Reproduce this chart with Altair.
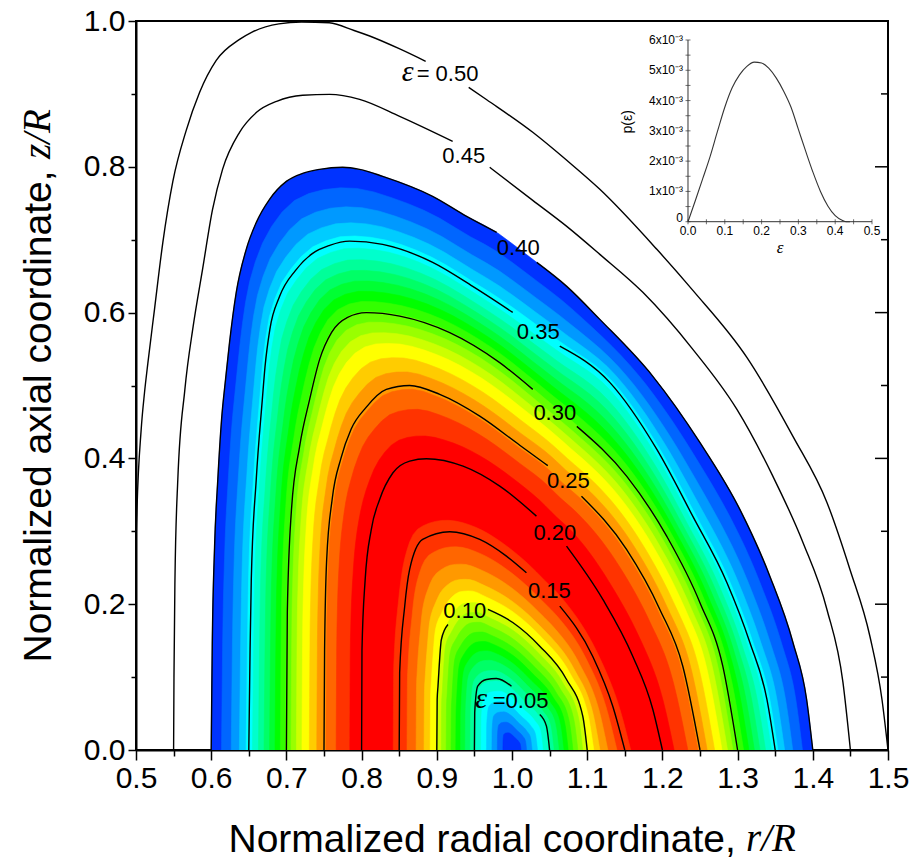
import numpy as np
import pandas as pd
import altair as alt

alt.data_transformers.disable_max_rows()

FONT = "Liberation Sans"
SERIF = "Liberation Serif"

# ---------------- values ----------------
# contour lines eps = const : points (r/R, z/R), left -> right; *_gap = points hidden under the label
c05_r = [0.9500, 0.9504, 0.9544, 0.9660, 0.9793, 0.9993, 1.0170, 1.0369, 1.0458, 1.0500]
c05_z = [0.0000, 0.0515, 0.0875, 0.0967, 0.0981, 0.0875, 0.0693, 0.0487, 0.0327, 0.0000]
c05_gap = [6]
c10_r = [0.9000, 0.9005, 0.9016, 0.9061, 0.9149, 0.9250, 0.9370, 0.9500, 0.9681, 1.0010, 1.0369, 1.0725, 1.0941, 1.1000]
c10_z = [0.0000, 0.0693, 0.0875, 0.1516, 0.1722, 0.1900, 0.2000, 0.2010, 0.1928, 0.1749, 0.1424, 0.0967, 0.0464, 0.0000]
c10_gap = [5, 6, 7]
c15_r = [0.8500, 0.8506, 0.8573, 0.8639, 0.8812, 0.9172, 0.9571, 0.9926, 1.0192, 1.0420, 1.0635, 1.1074, 1.1341, 1.1500]
c15_z = [0.0000, 0.1063, 0.1969, 0.2477, 0.2888, 0.2994, 0.2888, 0.2659, 0.2431, 0.2200, 0.1973, 0.1283, 0.0597, 0.0000]
c15_gap = [9]
c20_r = [0.8000, 0.8005, 0.8047, 0.8128, 0.8240, 0.8417, 0.8639, 0.8862, 0.9349, 0.9837, 1.0325, 1.0520, 1.0725, 1.1208, 1.1607, 1.1873, 1.2000]
c20_z = [0.0000, 0.1370, 0.2330, 0.3020, 0.3437, 0.3803, 0.3963, 0.3996, 0.3894, 0.3620, 0.3208, 0.3000, 0.2796, 0.2065, 0.1283, 0.0556, 0.0000]
c20_gap = [11]
c25_r = [0.7500, 0.7508, 0.7535, 0.7610, 0.7725, 0.7860, 0.8060, 0.8329, 0.8639, 0.9039, 0.9571, 1.0103, 1.0476, 1.0700, 1.0924, 1.1523, 1.1966, 1.2272, 1.2500]
c25_z = [0.0000, 0.1379, 0.2600, 0.3450, 0.4000, 0.4400, 0.4700, 0.4946, 0.5001, 0.4878, 0.4580, 0.4180, 0.3900, 0.3680, 0.3482, 0.2751, 0.1928, 0.1146, 0.0000]
c25_gap = [13]
c30_r = [0.7000, 0.7012, 0.7065, 0.7176, 0.7309, 0.7442, 0.7601, 0.7814, 0.8063, 0.8506, 0.9172, 0.9837, 1.0276, 1.0560, 1.0862, 1.1527, 1.2059, 1.2498, 1.2804, 1.3000]
c30_z = [0.0000, 0.1887, 0.3259, 0.4164, 0.4809, 0.5358, 0.5729, 0.5934, 0.5999, 0.5952, 0.5725, 0.5313, 0.4947, 0.4700, 0.4439, 0.3753, 0.2930, 0.2024, 0.1146, 0.0000]
c30_gap = [13]
c35_r = [0.6500, 0.6517, 0.6533, 0.6599, 0.6680, 0.6715, 0.6780, 0.6910, 0.7122, 0.7349, 0.7575, 0.7841, 0.8280, 0.8945, 0.9478, 1.0010, 1.0320, 1.0635, 1.1300, 1.1926, 1.2405, 1.2857, 1.3163, 1.3390, 1.3500]
c35_z = [0.0000, 0.1379, 0.2339, 0.3711, 0.4809, 0.5250, 0.5770, 0.6223, 0.6580, 0.6813, 0.6923, 0.6981, 0.6936, 0.6689, 0.6360, 0.6003, 0.5770, 0.5540, 0.5043, 0.4123, 0.3204, 0.2298, 0.1475, 0.0693, 0.0000]
c35_gap = [16]
c40_r = [0.6000, 0.6014, 0.6045, 0.6088, 0.6138, 0.6191, 0.6244, 0.6333, 0.6466, 0.6600, 0.6776, 0.6999, 0.7216, 0.7442, 0.7748, 0.7974, 0.8280, 0.8945, 0.9397, 0.9797, 1.0060, 1.0329, 1.0728, 1.1168, 1.1873, 1.2498, 1.3030, 1.3430, 1.3736, 1.3918, 1.4000]
c40_z = [0.0000, 0.1420, 0.2792, 0.3712, 0.4535, 0.5084, 0.5591, 0.6277, 0.6868, 0.7238, 0.7554, 0.7800, 0.7910, 0.7965, 0.7993, 0.7965, 0.7869, 0.7595, 0.7320, 0.7101, 0.6900, 0.6689, 0.6360, 0.5907, 0.5126, 0.4219, 0.3300, 0.2381, 0.1475, 0.0693, 0.0000]
c40_gap = [20]
c45_r = [0.5500, 0.5505, 0.5518, 0.5556, 0.5650, 0.5760, 0.5885, 0.6018, 0.6151, 0.6377, 0.6603, 0.6870, 0.7216, 0.7575, 0.7974, 0.8506, 0.9211, 0.9450, 0.9704, 1.0276, 1.0728, 1.1168, 1.1740, 1.2405, 1.2991, 1.3470, 1.3869, 1.4188, 1.4401, 1.4500]
c45_z = [0.0000, 0.1000, 0.2339, 0.3711, 0.4946, 0.5811, 0.6593, 0.7416, 0.7965, 0.8473, 0.8747, 0.8898, 0.8981, 0.8994, 0.8925, 0.8692, 0.8349, 0.8180, 0.7993, 0.7540, 0.7183, 0.6799, 0.6278, 0.5496, 0.4672, 0.3753, 0.2847, 0.1928, 0.0927, 0.0000]
c45_gap = [17]
c50_r = [0.5000, 0.5003, 0.5012, 0.5069, 0.5113, 0.5157, 0.5246, 0.5357, 0.5490, 0.5668, 0.5845, 0.6067, 0.6377, 0.6537, 0.6900, 0.7200, 0.7570, 0.7900, 0.8107, 0.8500, 0.8852, 0.9150, 0.9424, 0.9664, 1.0276, 1.0728, 1.1168, 1.1926, 1.2405, 1.3123, 1.3736, 1.4188, 1.4494, 1.4760, 1.4920, 1.5000]
c50_z = [0.2200, 0.2900, 0.3259, 0.4398, 0.4900, 0.5300, 0.6045, 0.6964, 0.7800, 0.8500, 0.9020, 0.9460, 0.9748, 0.9845, 0.9960, 0.9986, 0.9975, 0.9870, 0.9794, 0.9620, 0.9447, 0.9280, 0.9090, 0.8920, 0.8473, 0.8089, 0.7691, 0.6868, 0.6305, 0.5386, 0.4302, 0.3396, 0.2477, 0.1557, 0.0693, 0.0000]
c50_gap = [21]

levels = [0.05, 0.10, 0.15, 0.20, 0.25, 0.30, 0.35, 0.40, 0.45, 0.50]
contours = {
    0.05: (c05_r, c05_z, c05_gap), 0.10: (c10_r, c10_z, c10_gap),
    0.15: (c15_r, c15_z, c15_gap), 0.20: (c20_r, c20_z, c20_gap),
    0.25: (c25_r, c25_z, c25_gap), 0.30: (c30_r, c30_z, c30_gap),
    0.35: (c35_r, c35_z, c35_gap), 0.40: (c40_r, c40_z, c40_gap),
    0.45: (c45_r, c45_z, c45_gap), 0.50: (c50_r, c50_z, c50_gap),
}

# contour labels (centres)
lab_text = ["0.45", "0.40", "0.35", "0.30", "0.25", "0.20", "0.15", "0.10"]
lab_r = [0.9358, 1.0083, 1.0349, 1.0569, 1.0749, 1.0569, 1.0496, 0.9371]
lab_z = [0.8150, 0.6881, 0.5736, 0.4624, 0.3691, 0.2978, 0.2182, 0.1907]
eq_text = ["= 0.50", "=0.05"]
eq_r = [0.8732, 0.9744]
eq_z = [0.9268, 0.0679]
eps_r = [0.8613, 0.9591]
eps_z = [0.9173, 0.0576]

# inset p(eps), in units of 1e-3
p_eps = [0.00, 0.02, 0.04, 0.06, 0.08, 0.10, 0.12, 0.14, 0.16, 0.18, 0.20, 0.22,
         0.24, 0.26, 0.28, 0.30, 0.32, 0.34, 0.36, 0.38, 0.40, 0.42, 0.43, 0.44]
p_val = [0.00, 0.70, 1.42, 2.15, 2.98, 3.78, 4.42, 4.85, 5.13, 5.27, 5.24, 5.06,
         4.74, 4.31, 3.78, 3.05, 2.32, 1.62, 1.00, 0.52, 0.20, 0.04, 0.00, 0.00]
inset_xticks = [0.0, 0.1, 0.2, 0.3, 0.4, 0.5]
inset_yticks = [1, 2, 3, 4, 5, 6]

# colour levels of the filled map (p levels, 1e-3) and palette
p_levels = [0.42 + 0.26 * k for k in range(19)]
band_colors = ["#0033ff", "#0066ff", "#0099ff", "#00ccff", "#00ffff", "#00ffcc", "#00ff99",
               "#00ff66", "#00ff33", "#00ff00", "#33ff00", "#66ff00", "#99ff00", "#ccff00",
               "#ffff00", "#ffcc00", "#ff9900", "#ff6600", "#ff3300", "#ff0000"]

# ---------------- tables ----------------
line_rows = []
for lv in levels:
    r, z, gap = contours[lv]
    part = 0
    for i, (ri, zi) in enumerate(zip(r, z)):
        if i in gap:
            part += 1
            continue
        line_rows.append({"seg": f"{lv:.2f}-{part}", "r": ri, "z": zi})
lines_df = pd.DataFrame(line_rows)


def mono_dense(x, y, n=12):
    x = np.asarray(x, float); y = np.asarray(y, float)
    h = np.diff(x); s = np.diff(y) / h
    m = np.zeros(len(x))
    for i in range(1, len(x) - 1):
        if s[i - 1] * s[i] > 0:
            p = (s[i - 1] * h[i] + s[i] * h[i - 1]) / (h[i - 1] + h[i])
            m[i] = 2 * np.sign(s[i]) * min(abs(s[i - 1]), abs(s[i]), 0.5 * abs(p))
    m[0] = (3 * s[0] - m[1]) / 2
    m[-1] = (3 * s[-1] - m[-2]) / 2
    t = np.linspace(0, 1, n, endpoint=False)
    h00 = 2 * t**3 - 3 * t**2 + 1; h10 = t**3 - 2 * t**2 + t
    h01 = -2 * t**3 + 3 * t**2; h11 = t**3 - t**2
    xs, ys = [], []
    for i in range(len(x) - 1):
        xs.append(x[i] + t * h[i])
        ys.append(h00 * y[i] + h10 * h[i] * m[i] + h01 * y[i + 1] + h11 * h[i] * m[i + 1])
    xs.append([x[-1]]); ys.append([y[-1]])
    return np.concatenate(xs), np.concatenate(ys)


tg = np.linspace(0, np.pi, 121)
fill_levels = levels[:8]
RHO = {}
for lv in fill_levels:
    r, z, _ = contours[lv]
    xd, yd = mono_dense(r, z)
    yd = np.clip(yd, 1e-9, None)
    th = np.arctan2(yd, xd - 1.0)
    rh = np.hypot(xd - 1.0, yd)
    o = np.argsort(th)
    RHO[lv] = np.interp(tg, th[o], rh[o])


def disk(eps):
    if eps <= 0.05:
        rho = RHO[0.05] * eps / 0.05
    else:
        k = min(int((eps - 0.05 + 1e-9) // 0.05), 6)
        lo, hi = fill_levels[k], fill_levels[k + 1]
        w = (eps - lo) / 0.05
        rho = (1 - w) * RHO[lo] + w * RHO[hi]
    rr = 1 + rho * np.cos(tg)
    zz = rho * np.sin(tg)
    return rr[::-1], zz[::-1]


cross = []
for L in p_levels:
    for i in range(len(p_eps) - 1):
        a, b = p_val[i] - L, p_val[i + 1] - L
        if (a < 0 <= b) or (a > 0 >= b):
            cross.append(p_eps[i] + a / (a - b) * (p_eps[i + 1] - p_eps[i]))
bounds = sorted(c for c in cross if c < 0.40) + [0.40]
band_tables = []
for j, b in enumerate(bounds):
    inner = bounds[j - 1] if j > 0 else 0.0
    pm = np.interp(0.5 * (inner + b), p_eps, p_val)
    col = band_colors[int(np.searchsorted(p_levels, pm))]
    rr, zz = disk(b)
    df = pd.DataFrame({"i": np.arange(len(rr)),
                       "r": np.round(rr.astype(float), 5),
                       "z": np.round(zz.astype(float), 5)})
    band_tables.append((col, df))

labels_df = pd.DataFrame({"t": lab_text, "r": lab_r, "z": lab_z})
eq_df = pd.DataFrame({"t": eq_text, "r": eq_r, "z": eq_z})
eps_df = pd.DataFrame({"t": ["ε", "ε"], "r": eps_r, "z": eps_z})
inset_df = pd.DataFrame({"eps": p_eps, "p": p_val})
rt_major = pd.DataFrame({"z": [0.2, 0.4, 0.6, 0.8]})
rt_minor = pd.DataFrame({"z": [0.1, 0.3, 0.5, 0.7, 0.9]})
ix_df = pd.DataFrame({"eps": [round(0.05 * i, 2) for i in range(11)], "p": 0.0})
ix_df["t"] = [f"{e:.1f}" if e in inset_xticks else "" for e in ix_df["eps"]]
iy_df = pd.DataFrame({"eps": 0.0, "p": [0.5 * i for i in range(13)]})
iy_df["t"] = [f"{int(v)}x10⁻³" if v in inset_yticks else "" for v in iy_df["p"]]
iy0_df = pd.DataFrame({"eps": [0.0], "p": [0.0], "t": ["0"]})
iax_df = pd.DataFrame({"eps": [0.0, 0.0], "eps2": [0.5, 0.0], "p": [0.0, 0.0], "p2": [0.0, 6.0]})
ititle_df = pd.DataFrame({"eps": [0.25], "p": [0.0]})
iytitle_df = pd.DataFrame({"eps": [0.0], "p": [3.3]})
one_df = pd.DataFrame({"a": [0]})

# ---------------- chart ----------------
W, H = 752, 729
XS = alt.Scale(domain=[0.5, 1.5], nice=False, zero=False)
YS = alt.Scale(domain=[0.0, 1.0], nice=False, zero=False)

# inset placement inside the main frame (eps -> r/R, p -> z/R)
IX0, IXS = 1.23404, 0.48936
IZ0, IZS = 0.72469, 0.041542
to_r = f"{IX0} + datum.eps * {IXS}"
to_z = f"{IZ0} + datum.p * {IZS}"

TFS = 39  # axis title font size
x_major = "abs(datum.value*10 - round(datum.value*10)) < 0.001"
y_major = "abs(datum.value*5 - round(datum.value*5)) < 0.001"
x_axis = alt.Axis(
    values=[round(0.5 + 0.05 * i, 2) for i in range(21)],
    labelExpr=f"{x_major} ? format(datum.value, '.1f') : ''",
    tickSize={"condition": {"test": x_major, "value": 10}, "value": 6},
    tickWidth=1.5, tickColor="black", domainColor="black", domainWidth=2,
    labelFont=FONT, labelFontSize=30, labelColor="black", labelPadding=3,
    labelOverlap=False, labelFlush=False, labelBound=False, grid=False,
    title="Normalized radial coordinate,", titleFont=FONT, titleFontSize=TFS,
    titleFontWeight="normal", titleColor="black", titleAlign="left",
    titleX=92, titleY=101, titleBaseline="alphabetic")
y_axis = alt.Axis(
    values=[round(0.1 * i, 1) for i in range(11)],
    labelExpr=f"{y_major} ? format(datum.value, '.1f') : ''",
    tickSize={"condition": {"test": y_major, "value": 8}, "value": 5},
    tickWidth=1.5, tickColor="black", domainColor="black", domainWidth=2,
    labelFont=FONT, labelFontSize=30, labelColor="black", labelPadding=3,
    labelOverlap=False, labelFlush=False, labelBound=False, grid=False,
    title="Normalized axial coordinate,", titleFont=FONT, titleFontSize=TFS,
    titleFontWeight="normal", titleColor="black", titleAlign="left", titleAngle=270,
    titleX=-86, titleY=641, titleBaseline="alphabetic")

# every layer carries the same axis definition so that the shared axes merge cleanly
XN = alt.X("r:Q", scale=XS, axis=x_axis)
YN = alt.Y("z:Q", scale=YS, axis=y_axis)

layers = []
# filled colour map: nested regions eps < eps_k, painted from the outside in
for col, df in reversed(band_tables):
    layers.append(
        alt.Chart(df).mark_line(fill=col, stroke=col, strokeWidth=0.6, interpolate="linear")
        .encode(x=XN, y=YN, order=alt.Order("i:Q"))
    )
layers.append(
    alt.Chart(lines_df).mark_line(color="black", strokeWidth=1.4, interpolate="monotone", clip=True)
    .encode(x=XN, y=YN, detail="seg:N")
)
layers.append(
    alt.Chart(labels_df).mark_text(font=FONT, fontSize=22, color="black", align="center", baseline="middle")
    .encode(x=XN, y=YN, text="t:N")
)
layers.append(
    alt.Chart(eq_df).mark_text(font=FONT, fontSize=22, color="black", align="left", baseline="middle")
    .encode(x=XN, y=YN, text="t:N")
)
layers.append(
    alt.Chart(eps_df).mark_text(font=SERIF, fontSize=30, fontStyle="italic", color="black",
                                align="center", baseline="alphabetic")
    .encode(x=XN, y=YN, text="t:N")
)
layers.append(
    alt.Chart(rt_major).mark_rule(color="black", strokeWidth=1.5)
    .encode(x=alt.value(W), x2=alt.value(W - 13), y=YN)
)
layers.append(
    alt.Chart(rt_minor).mark_rule(color="black", strokeWidth=1.5)
    .encode(x=alt.value(W), x2=alt.value(W - 7), y=YN)
)
# italic parts of the axis titles
layers.append(
    alt.Chart(one_df).mark_text(font=SERIF, fontSize=TFS, fontStyle="italic", color="black",
                                align="left", baseline="alphabetic")
    .encode(x=alt.value(610), y=alt.value(H + 101), text=alt.value("r/R"))
)
layers.append(
    alt.Chart(one_df).mark_text(font=SERIF, fontSize=TFS, fontStyle="italic", color="black",
                                align="left", baseline="alphabetic", angle=270)
    .encode(x=alt.value(-86), y=alt.value(138), text=alt.value("z/R"))
)

# ---- inset ----
layers.append(
    alt.Chart(iax_df).transform_calculate(r=to_r, z=to_z,
                                          r2=f"{IX0} + datum.eps2 * {IXS}", z2=f"{IZ0} + datum.p2 * {IZS}")
    .mark_rule(color="#333333", strokeWidth=1)
    .encode(x=XN, y=YN, x2="r2:Q", y2="z2:Q")
)
layers.append(
    alt.Chart(ix_df).transform_calculate(r=to_r, z=to_z)
    .mark_tick(orient="vertical", size=5, thickness=1, color="#333333")
    .encode(x=XN, y=YN)
)
layers.append(
    alt.Chart(iy_df).transform_calculate(r=to_r, z=to_z)
    .mark_tick(orient="horizontal", size=5, thickness=1, color="#333333")
    .encode(x=XN, y=YN)
)
layers.append(
    alt.Chart(ix_df).transform_calculate(r=to_r, z=to_z)
    .mark_text(font=FONT, fontSize=12, color="black", align="center", baseline="top", dy=4)
    .encode(x=XN, y=YN, text="t:N")
)
layers.append(
    alt.Chart(iy_df).transform_calculate(r=to_r, z=to_z)
    .mark_text(font=FONT, fontSize=12, color="black", align="right", baseline="middle", dx=-5)
    .encode(x=XN, y=YN, text="t:N")
)
layers.append(
    alt.Chart(iy0_df).transform_calculate(r=to_r, z=to_z)
    .mark_text(font=FONT, fontSize=12, color="black", align="right", baseline="middle", dx=-5, dy=-4)
    .encode(x=XN, y=YN, text="t:N")
)
layers.append(
    alt.Chart(ititle_df).transform_calculate(r=to_r, z=to_z)
    .mark_text(font=SERIF, fontSize=17, fontStyle="italic", color="black", align="center",
               baseline="alphabetic", dy=31)
    .encode(x=XN, y=YN, text=alt.value("ε"))
)
layers.append(
    alt.Chart(iytitle_df).transform_calculate(r=to_r, z=to_z)
    .mark_text(font=FONT, fontSize=14, color="black", align="center", baseline="middle",
               angle=270, dy=-60)
    .encode(x=XN, y=YN, text=alt.value("p(ε)"))
)
layers.append(
    alt.Chart(inset_df).transform_calculate(r=to_r, z=to_z)
    .mark_line(color="#333333", strokeWidth=1.1, interpolate="monotone")
    .encode(x=XN, y=YN)
)

chart = (
    alt.layer(*layers)
    .properties(width=W, height=H, padding={"left": 136, "top": 21, "right": 26, "bottom": 113},
                autosize=alt.AutoSizeParams(type="none"), background="white")
    .configure_view(stroke="black", strokeWidth=2)
)

chart.save("out.html", embed_options={"renderer": "svg", "actions": False})
